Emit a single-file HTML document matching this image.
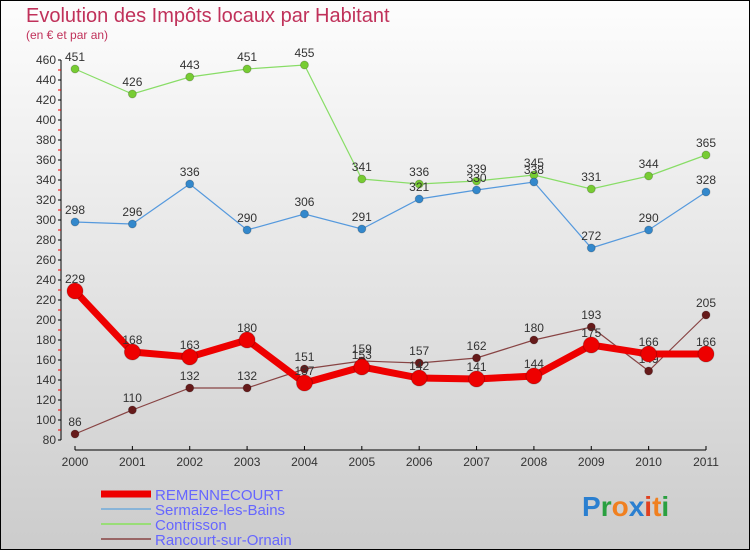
<!DOCTYPE html>
<html><head><meta charset="utf-8"><style>
body{margin:0}
#c{width:750px;height:550px;position:relative;overflow:hidden;box-sizing:border-box;border:1px solid #000;background:linear-gradient(#fdfdfd,#cccccc);font-family:"Liberation Sans",sans-serif}
</style></head><body>
<div id="c">
<svg id="s" width="750" height="550" style="position:absolute;left:-1px;top:-1px">
<text x="26" y="22" font-size="20" fill="#c0315a">Evolution des Impôts locaux par Habitant</text>
<text x="26" y="39" font-size="12" fill="#c0315a">(en € et par an)</text>
<g id="ax"></g><g id="ser"></g><g id="lg"></g>
<text x="582" y="516" font-size="28" font-weight="bold"><tspan fill="#2a7fd0">P</tspan><tspan fill="#2aa040">r</tspan><tspan fill="#f08020">o</tspan><tspan fill="#2a7fd0">x</tspan><tspan fill="#e04020">i</tspan><tspan fill="#f08020">t</tspan><tspan fill="#2aa040">i</tspan></text>
</svg>
</div>
<script>
const years=["2000","2001","2002","2003","2004","2005","2006","2007","2008","2009","2010","2011"];
const remennecourt=[229,168,163,180,137,153,142,141,144,175,166,166];
const sermaize=[298,296,336,290,306,291,321,330,338,272,290,328];
const contrisson=[451,426,443,451,455,341,336,339,345,331,344,365];
const rancourt=[86,110,132,132,151,159,157,162,180,193,149,205];
const yTicks=[80,100,120,140,160,180,200,220,240,260,280,300,320,340,360,380,400,420,440,460];
const NS="http://www.w3.org/2000/svg";
const X=i=>75+i*(706-75)/11, Y=v=>440-(v-80)*(380/380);
function mk(t,a,p){const e=document.createElementNS(NS,t);for(const k in a)e.setAttribute(k,a[k]);p.appendChild(e);return e;}
const ax=document.getElementById('ax');
let e=mk('line',{x1:61,y1:Y(460),x2:61,y2:Y(80),stroke:'#000'},ax);


e=mk('line',{x1:75,y1:450,x2:706,y2:450,stroke:'#000'},ax);


yTicks.forEach((v,i)=>{
 mk('line',{x1:58,y1:Y(v),x2:61,y2:Y(v),stroke:'#000'},ax);
 if(i<yTicks.length-1) mk('line',{x1:58,y1:Y(v+10),x2:61,y2:Y(v+10),stroke:'#e00'},ax);
 const t=mk('text',{x:56,y:Y(v)+4,'font-size':12,fill:'#333','text-anchor':'end'},ax);t.textContent=v;
 
 
});
years.forEach((y,i)=>{
 mk('line',{x1:X(i),y1:446,x2:X(i),y2:450,stroke:'#000'},ax);
 const t=mk('text',{x:X(i),y:466,'font-size':12,fill:'#333','text-anchor':'middle'},ax);t.textContent=y;
 
 
});
const sg=document.getElementById('ser');
const series=[
 {d:contrisson,c:'#88dd66',pc:'#77cc33',w:1.2,r:4,n:'contrisson'},
 {d:sermaize,c:'#5599dd',pc:'#3388cc',w:1.2,r:4,n:'sermaize-les-bains'},
 {d:rancourt,c:'#884444',pc:'#661a1a',w:1.2,r:4,n:'rancourt-sur-ornain'},
 {d:remennecourt,c:'#ee0000',pc:'#ee0000',w:7,r:8,n:'remennecourt'}];
series.forEach(s=>{
 const g=mk('g',{},sg);
 
 
 const l=mk('polyline',{points:s.d.map((v,i)=>X(i)+','+Y(v)).join(' '),fill:'none',stroke:s.c,'stroke-width':s.w},g);
 
 
 s.d.forEach((v,i)=>{
  const p=mk('circle',{cx:X(i),cy:Y(v),r:s.r,fill:s.pc,stroke:'rgba(0,0,0,0.2)'},g);
  
  
  const t=mk('text',{x:X(i),y:Y(v)-8,'font-size':12,fill:'#333','text-anchor':'middle'},g);t.textContent=v;
  
  
 });
});
const lg=document.getElementById('lg');
const legend=[['REMENNECOURT','#ee0000',7],['Sermaize-les-Bains','#88b4d8',2],['Contrisson','#99dd77',2],['Rancourt-sur-Ornain','#996666',2]];
legend.forEach((L,i)=>{
 const y=494+i*15;
 mk('line',{x1:101,y1:y,x2:151,y2:y,stroke:L[1],'stroke-width':L[2]},lg);
 const t=mk('text',{x:155,y:y+6,'font-size':15,fill:'#6666ff'},lg);t.textContent=L[0];
 
 
});
</script>
</body></html>
